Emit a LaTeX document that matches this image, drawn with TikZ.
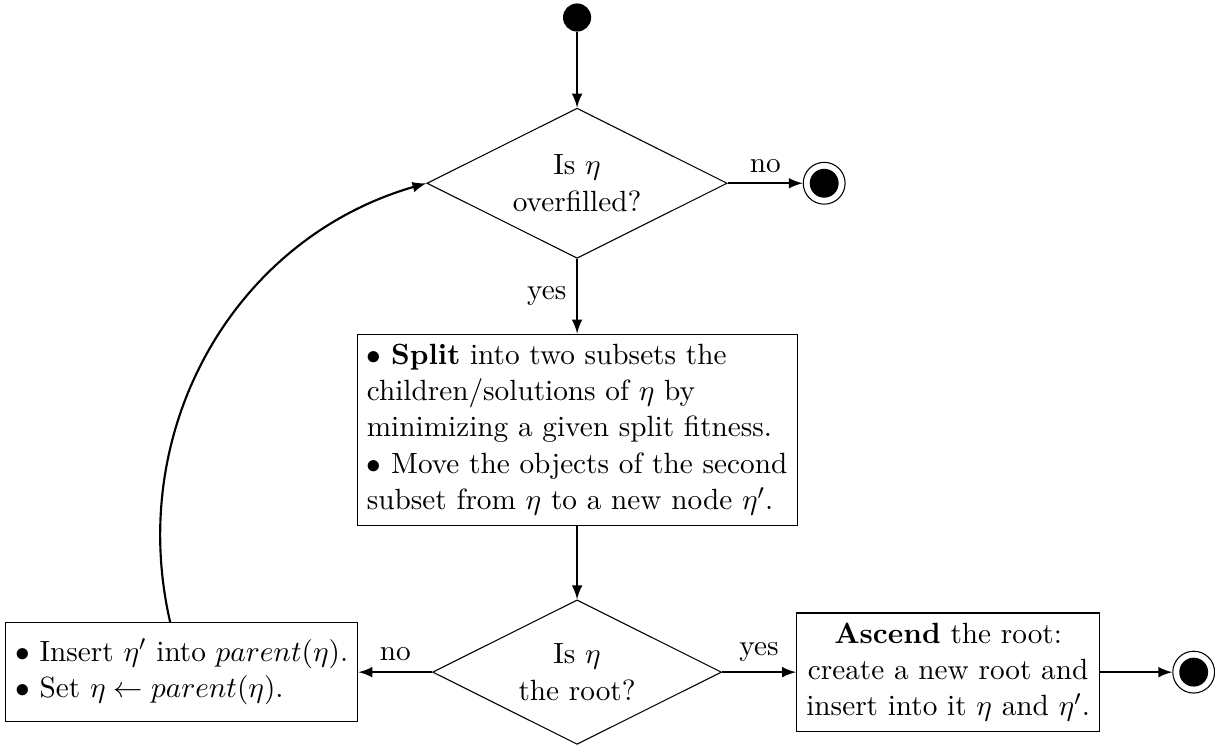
\documentclass[tikz,border=0pt,11pt]{standalone}
\usetikzlibrary{shapes.geometric}
\tikzset{
  decision/.style={diamond, draw, aspect=2, align=center},
  block/.style={rectangle, draw},
  startdot/.style={circle, fill=black, minimum size=0.37cm, inner sep=0pt},
  enddot/.style={circle, draw, minimum size=0.55cm, inner sep=0pt,
    path picture={\fill (path picture bounding box.center) circle (0.19cm);}},
  flow/.style={->, >=latex, thick}
}
\begin{document}
\begin{tikzpicture}
  \useasboundingbox (-7.59,-7.39) rectangle (8.39,2.41);
  \node[startdot] (start) at (0,2.18) {};
  \node[decision] (over) at (0,0) {Is $\eta$\\ overfilled?};
  \node[enddot] (stop1) at (3.25,0) {};
  \node[block, align=left] (split) at (0,-3.24) {$\bullet$ \textbf{Split} into two subsets the\\
    children/solutions of $\eta$ by\\
    minimizing a given split fitness.\\
    $\bullet$ Move the objects of the second\\
    subset from $\eta$ to a new node $\eta'$.};
  \node[decision] (isroot) at (0,-6.43) {Is $\eta$\\ the root?};
  \node[block, align=center] (ascend) at (4.88,-6.43) {\textbf{Ascend} the root:\\
    create a new root and\\
    insert into it $\eta$ and $\eta'$.};
  \node[enddot] (stop2) at (8.11,-6.43) {};
  \node[block, align=left, minimum height=1.3cm] (insert) at (-5.2,-6.43) {$\bullet$ Insert $\eta'$ into $parent(\eta)$.\\
    $\bullet$ Set $\eta \leftarrow parent(\eta)$.};

  \foreach \a/\b in {start/over, split/isroot, ascend/stop2}{
    \draw[flow] (\a) -- (\b);
  }
  \draw[flow] (over) -- node[above] {no} (stop1);
  \draw[flow] (over) -- node[left] {yes} (split);
  \draw[flow] (isroot) -- node[above] {yes} (ascend);
  \draw[flow] (isroot) -- node[above] {no} (insert);
  \draw[flow] (insert) to[out=103, in=196] (over.west);
\end{tikzpicture}
\end{document}
